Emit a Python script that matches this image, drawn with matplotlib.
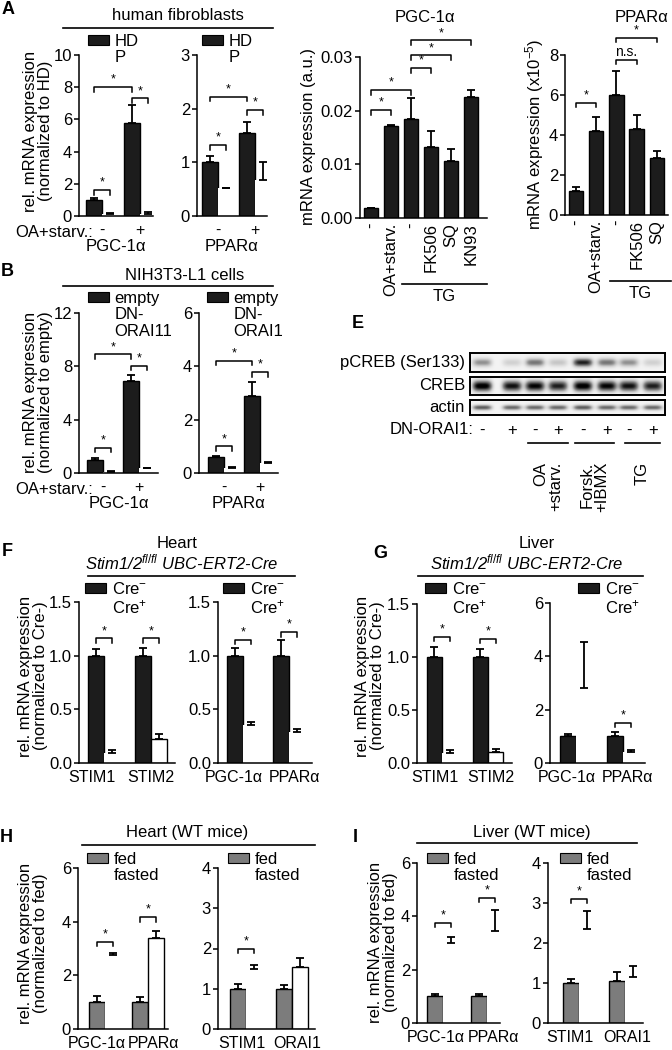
import numpy as np
import matplotlib
matplotlib.use('Agg')
import matplotlib.pyplot as plt
from matplotlib.patches import Rectangle
from matplotlib.lines import Line2D

plt.rcParams['font.family'] = ['Liberation Sans', 'DejaVu Sans']
plt.rcParams['mathtext.fontset'] = 'custom'
plt.rcParams['mathtext.rm'] = 'Liberation Sans'
plt.rcParams['mathtext.it'] = 'Liberation Sans:italic'
plt.rcParams['axes.linewidth'] = 1.1

### A: human fibroblasts (HD / P, -/+ OA+starv.)
a_pgc_hd, a_pgc_hd_err = [1.0, 5.75], [0.12, 1.15]
a_pgc_p, a_pgc_p_err = [0.15, 0.12], [0.04, 0.13]
a_ppar_hd, a_ppar_hd_err = [1.0, 1.55], [0.12, 0.2]
a_ppar_p, a_ppar_p_err = [0.52, 0.68], [0.01, 0.32]

### B: NIH3T3-L1 cells (empty / DN-ORAI1)
b_pgc_e, b_pgc_e_err = [1.0, 6.9], [0.1, 0.45]
b_pgc_dn, b_pgc_dn_err = [0.1, 0.35], [0.02, 0.05]
b_ppar_e, b_ppar_e_err = [0.6, 2.9], [0.05, 0.5]
b_ppar_dn, b_ppar_dn_err = [0.2, 0.38], [0.02, 0.03]

### C / D: treatments
c_labels = ['-', 'OA+starv.', '-', 'FK506', 'SQ', 'KN93']
c_vals = [0.0018, 0.0172, 0.0185, 0.0132, 0.0106, 0.0226]
c_err = [0.0001, 0.0002, 0.0038, 0.0031, 0.0022, 0.0012]
d_labels = ['-', 'OA+starv.', '-', 'FK506', 'SQ']
d_vals = [1.2, 4.2, 6.0, 4.3, 2.85]
d_err = [0.2, 0.7, 1.2, 0.7, 0.35]

### E: western blot band intensities (8 lanes)
e_rows = ['pCREB (Ser133)', 'CREB', 'actin']
e_pcreb = [0.45, 0.2, 0.55, 0.25, 0.85, 0.55, 0.45, 0.2]
e_creb = [1.0, 0.9, 0.95, 0.85, 1.0, 0.95, 0.9, 0.85]
e_actin = [0.65, 0.6, 0.6, 0.6, 0.65, 0.6, 0.6, 0.6]
e_dn = ['-', '+', '-', '+', '-', '+', '-', '+']
e_treat = ['OA\n+starv.', 'Forsk.\n+IBMX', 'TG']

### F: heart, Cre- / Cre+
f1_genes = ['STIM1', 'STIM2']
f1_neg, f1_neg_err = [1.0, 1.0], [0.065, 0.075]
f1_pos, f1_pos_err = [0.09, 0.22], [0.03, 0.05]
f2_genes = ['PGC-1α', 'PPARα']
f2_neg, f2_neg_err = [1.0, 1.0], [0.07, 0.15]
f2_pos, f2_pos_err = [0.35, 0.29], [0.03, 0.03]

### G: liver, Cre- / Cre+
g1_neg, g1_neg_err = [1.0, 1.0], [0.09, 0.08]
g1_pos, g1_pos_err = [0.09, 0.1], [0.03, 0.03]
g2_neg, g2_neg_err = [1.0, 1.0], [0.1, 0.15]
g2_pos, g2_pos_err = [2.8, 0.4], [1.73, 0.08]

### H: heart WT, fed / fasted
h2_genes = ['STIM1', 'ORAI1']
h1_fed, h1_fed_err = [1.0, 1.0], [0.22, 0.18]
h1_fast, h1_fast_err = [2.75, 3.4], [0.07, 0.25]
h2_fed, h2_fed_err = [1.0, 1.0], [0.12, 0.1]
h2_fast, h2_fast_err = [1.5, 1.55], [0.1, 0.22]

### I: liver WT, fed / fasted
i1_fed, i1_fed_err = [1.0, 1.0], [0.1, 0.1]
i1_fast, i1_fast_err = [3.0, 3.45], [0.22, 0.8]
i2_fed, i2_fed_err = [1.0, 1.05], [0.1, 0.22]
i2_fast, i2_fast_err = [2.35, 1.15], [0.45, 0.27]

W, H = 672, 1050
fig = plt.figure(figsize=(W / 100, H / 100), dpi=100)
BLACK = '#1c1c1c'
GRAY = '#7c7c7c'
FS = 12
XFS = 11.5


def fx(px):
    return px / W


def fy(py):
    return 1 - py / H


def ax_px(l, t, r, b):
    return fig.add_axes([fx(l), fy(b), fx(r - l), (b - t) / H])


def hline(x1, x2, y):
    fig.add_artist(Line2D([fx(x1), fx(x2)], [fy(y), fy(y)], color='black', lw=1.2))


def ftext(x, y, s, **kw):
    kw.setdefault('fontsize', FS)
    kw.setdefault('ha', 'center')
    kw.setdefault('va', 'center')
    fig.text(fx(x), fy(y), s, **kw)


def style(ax, ymax, yticks, fmt):
    ax.spines['top'].set_visible(False)
    ax.spines['right'].set_visible(False)
    ax.set_ylim(0, ymax)
    ax.set_yticks(yticks)
    ax.set_yticklabels([fmt.format(t) for t in yticks])
    ax.tick_params(axis='y', direction='out', length=3.5, width=1.1, labelsize=FS, pad=1.5)
    ax.tick_params(axis='x', length=0, labelsize=XFS, pad=5)


def bracket(ax, x1, x2, y, s, dy):
    ax.plot([x1, x1, x2, x2], [y - dy, y, y, y - dy], color='black', lw=1.1, clip_on=False)
    ax.text((x1 + x2) / 2, y + dy * 0.3, s, ha='center', va='bottom',
            fontsize=9 if s == '*' else 10, clip_on=False)


def pair_panel(rect, xlim, bw, ymax, yticks, fmt, xt, xlabels, m1, e1, m2, e2, c1,
               outlined2, brackets, leg_labels, leg_xy, xlabel=None):
    ax = ax_px(*rect)
    x = np.arange(2)
    x1, x2 = x - bw / 2, x + bw / 2
    ax.bar(x1, m1, bw, color=c1, edgecolor='black', lw=1.0, zorder=2)
    ax.bar(x2, m2, bw, color='white',
           edgecolor=['black' if o else 'none' for o in outlined2], lw=1.0, zorder=2)
    for xs, m, e in ((x1, m1, e1), (x2, m2, e2)):
        ax.errorbar(xs, m, yerr=[np.zeros(2), e], fmt='none', ecolor='black',
                    elinewidth=1.3, capsize=3, capthick=1.3, zorder=3)
    ax.set_xlim(*xlim)
    style(ax, ymax, yticks, fmt)
    ax.set_xticks(xt)
    ax.set_xticklabels(xlabels)
    if xlabel:
        ax.set_xlabel(xlabel, fontsize=FS, labelpad=1)
    pos = [x1[0], x2[0], x1[1], x2[1]]
    for i, j, y, s in brackets:
        bracket(ax, pos[i], pos[j], y, s, ymax * 0.028)
    handles = [Rectangle((0, 0), 1, 1, fc=c1, ec='black', lw=0.8),
               Rectangle((0, 0), 1, 1, fc='none', ec='none')]
    ax.legend(handles, leg_labels, loc='upper left', bbox_to_anchor=(fx(leg_xy[0]), fy(leg_xy[1])),
              bbox_transform=fig.transFigure, frameon=False, borderpad=0, borderaxespad=0,
              handlelength=1.25, handleheight=0.6, handletextpad=0.35, labelspacing=0.05,
              fontsize=FS)
    return ax


def multi_panel(rect, xlim, ymax, yticks, fmt, labels, vals, err, brackets, tg_from, tg_to, tg_x):
    ax = ax_px(*rect)
    x = np.arange(len(vals))
    ax.bar(x, vals, 0.72, color=BLACK, edgecolor='black', lw=1.0, zorder=2)
    ax.errorbar(x, vals, yerr=[np.zeros(len(vals)), err], fmt='none', ecolor='black',
                elinewidth=1.3, capsize=3, capthick=1.3, zorder=3)
    ax.set_xlim(*xlim)
    style(ax, ymax, yticks, fmt)
    ax.set_xticks(x)
    ax.set_xticklabels(labels, rotation=90, fontsize=FS)
    ax.tick_params(axis='x', pad=3.5)
    for i, j, y, s in brackets:
        bracket(ax, i, j, y, s, ymax * 0.028)
    tr = ax.get_xaxis_transform()
    ax.plot([tg_from, tg_to], [-0.41, -0.41], color='black', lw=1.2, transform=tr, clip_on=False)
    ax.text(tg_x, -0.49, 'TG', transform=tr, ha='center', va='center', fontsize=FS)
    return ax


# ---------- A ----------
ftext(8, 9, 'A', fontsize=13, fontweight='bold')
ftext(178, 16, 'human fibroblasts')
hline(63, 273, 28)
pair_panel((79, 55, 153, 216), (-0.605, 1.34), 0.42, 10, [0, 2, 4, 6, 8, 10], '{:g}',
           [0, 1], ['-', '+'],
           a_pgc_hd, a_pgc_hd_err, a_pgc_p, a_pgc_p_err, BLACK, [False, False],
           [(0, 1, 1.6, '*'), (0, 2, 8.0, '*'), (2, 3, 7.3, '*')], ['HD', 'P'], (88, 34),
           xlabel='PGC-1α')
pair_panel((197, 55, 267, 216), (-0.57, 1.32), 0.43, 3, [0, 1, 2, 3], '{:g}',
           [0, 1], ['-', '+'],
           a_ppar_hd, a_ppar_hd_err, a_ppar_p, a_ppar_p_err, BLACK, [False, False],
           [(0, 1, 1.32, '*'), (0, 2, 2.22, '*'), (2, 3, 1.97, '*')], ['HD', 'P'], (202, 34),
           xlabel='PPARα')
ftext(15, 232, 'OA+starv.:', ha='left')
ftext(38, 131, 'rel. mRNA expression\n(normalized to HD)', rotation=90, linespacing=1.0)

# ---------- C ----------
ftext(425, 17, 'PGC-1α')
multi_panel((360, 57, 487, 218), (-0.55, 5.8), 0.03, [0, 0.01, 0.02, 0.03], '{:.2f}',
            c_labels, c_vals, c_err,
            [(0, 1, 0.0201, '*'), (0, 2, 0.0238, '*'), (2, 3, 0.0279, '*'),
             (2, 4, 0.0303, '*'), (2, 5, 0.0331, '*')], 1.55, 5.8, 3.65)
ftext(309, 137, 'mRNA expression (a.u.)', rotation=90)

# ---------- D ----------
ftext(642, 17, 'PPARα')
multi_panel((565, 55, 668, 215), (-0.54, 4.55), 8, [0, 2, 4, 6, 8], '{:g}',
            d_labels, d_vals, d_err,
            [(0, 1, 5.6, '*'), (2, 3, 7.75, 'n.s.'), (2, 4, 8.85, '*')], 1.66, 4.7, 3.2)
ftext(535, 134, 'mRNA expression (x10$^{-5}$)', rotation=90)

# ---------- B ----------
ftext(7, 272, 'B', fontsize=13, fontweight='bold')
ftext(185, 276, 'NIH3T3-L1 cells')
hline(63, 273, 286)
pair_panel((79, 313, 158, 473), (-0.67, 1.53), 0.44, 12, [0, 4, 8, 12], '{:g}',
           [0, 1], ['-', '+'],
           b_pgc_e, b_pgc_e_err, b_pgc_dn, b_pgc_dn_err, BLACK, [False, False],
           [(0, 1, 1.9, '*'), (0, 2, 8.9, '*'), (2, 3, 8.05, '*')],
           ['empty', 'DN-\nORAI11'], (88, 291), xlabel='PGC-1α')
pair_panel((199, 313, 278, 473), (-0.69, 1.5), 0.44, 6, [0, 2, 4, 6], '{:g}',
           [0, 1], ['-', '+'],
           b_ppar_e, b_ppar_e_err, b_ppar_dn, b_ppar_dn_err, BLACK, [False, False],
           [(0, 1, 1.0, '*'), (0, 2, 4.2, '*'), (2, 3, 3.78, '*')],
           ['empty', 'DN-\nORAI1'], (207, 291), xlabel='PPARα')
ftext(15, 489, 'OA+starv.:', ha='left')
ftext(38, 392, 'rel. mRNA expression\n(normalized to empty)', rotation=90, linespacing=1.0)

# ---------- E: blot ----------
ftext(358, 324, 'E', fontsize=13, fontweight='bold')
lane_x = [0.062, 0.215, 0.333, 0.451, 0.579, 0.703, 0.815, 0.938]
blot_rows = [(353, 372, e_pcreb, 0.22), (377, 395, e_creb, 0.3), (400, 415, e_actin, 0.18)]
xs = np.linspace(0, 1, 400)
ys = np.linspace(0, 1, 60)
X, Y = np.meshgrid(xs, ys)
for (t, b, levels, thick), name in zip(blot_rows, e_rows):
    bax = ax_px(470, t, 665, b)
    img = np.full(X.shape, 0.1)
    for c, v in zip(lane_x, levels):
        img += v * np.exp(-((X - c) / 0.05) ** 4 - ((Y - 0.5) / thick) ** 2)
    bax.imshow(img, cmap='Greys', vmin=0, vmax=1.05, aspect='auto', extent=(0, 1, 0, 1))
    bax.set_xticks([])
    bax.set_yticks([])
    for sp in bax.spines.values():
        sp.set_linewidth(1.4)
    ftext(465, (t + b) / 2, name, ha='right')
ftext(473, 430, 'DN-ORAI1:', ha='right')
for c, s in zip(lane_x, e_dn):
    ftext(470 + 195 * c, 430, s)
for (x1, x2), s in zip([(528, 568), (575, 614), (625, 660)], e_treat):
    hline(x1, x2, 443)
    ftext((x1 + x2) / 2, 462, s, rotation=90, va='top', multialignment='right', linespacing=1.0)

# ---------- F ----------
ftext(7, 551, 'F', fontsize=13, fontweight='bold')
ftext(177, 543, 'Heart')
ftext(182, 562, r'Stim1/2$^{\mathit{fl/fl}}$ UBC-ERT2-Cre', style='italic')
hline(88, 295, 576)
pair_panel((79, 602, 175, 763), (-0.53, 1.51), 0.34, 1.5, [0, 0.5, 1.0, 1.5], '{:.1f}',
           [-0.26, 1.0], f1_genes,
           f1_neg, f1_neg_err, f1_pos, f1_pos_err, BLACK, [False, True],
           [(0, 1, 1.16, '*'), (2, 3, 1.16, '*')], ['Cre$^{-}$', 'Cre$^{+}$'], (85, 581))
pair_panel((218, 602, 312, 763), (-0.54, 1.5), 0.35, 1.5, [0, 0.5, 1.0, 1.5], '{:.1f}',
           [-0.2, 1.11], f2_genes,
           f2_neg, f2_neg_err, f2_pos, f2_pos_err, BLACK, [False, False],
           [(0, 1, 1.15, '*'), (2, 3, 1.22, '*')], ['Cre$^{-}$', 'Cre$^{+}$'], (223, 581))
ftext(33, 676, 'rel. mRNA expression\n(normalized to Cre-)', rotation=90, linespacing=1.0)

# ---------- G ----------
ftext(380, 553, 'G', fontsize=13, fontweight='bold')
ftext(537, 543, 'Liver')
ftext(527, 562, r'Stim1/2$^{\mathit{fl/fl}}$ UBC-ERT2-Cre', style='italic')
hline(418, 643, 576)
pair_panel((417, 604, 512, 763), (-0.54, 1.52), 0.33, 1.5, [0, 0.5, 1.0, 1.5], '{:.1f}',
           [-0.15, 1.07], f1_genes,
           g1_neg, g1_neg_err, g1_pos, g1_pos_err, BLACK, [False, True],
           [(0, 1, 1.19, '*'), (2, 3, 1.17, '*')], ['Cre$^{-}$', 'Cre$^{+}$'], (425, 581))
pair_panel((550, 603, 645, 763), (-0.55, 1.47), 0.33, 6, [0, 2, 4, 6], '{:g}',
           [-0.19, 1.09], f2_genes,
           g2_neg, g2_neg_err, g2_pos, g2_pos_err, BLACK, [False, False],
           [(2, 3, 1.5, '*')], ['Cre$^{-}$', 'Cre$^{+}$'], (578, 581))
ftext(370, 676, 'rel. mRNA expression\n(normalized to Cre-)', rotation=90, linespacing=1.0)

# ---------- H ----------
ftext(6, 838, 'H', fontsize=13, fontweight='bold')
ftext(187, 833, 'Heart (WT mice)')
hline(82, 315, 845)
pair_panel((78, 868, 168, 1029), (-0.63, 1.47), 0.38, 6, [0, 2, 4, 6], '{:g}',
           [-0.19, 1.12], f2_genes,
           h1_fed, h1_fed_err, h1_fast, h1_fast_err, GRAY, [False, True],
           [(0, 1, 3.25, '*'), (2, 3, 4.17, '*')], ['fed', 'fasted'], (87, 852))
pair_panel((218, 868, 315, 1029), (-0.61, 1.5), 0.35, 4, [0, 1, 2, 3, 4], '{:g}',
           [-0.08, 1.11], h2_genes,
           h2_fed, h2_fed_err, h2_fast, h2_fast_err, GRAY, [False, True],
           [(0, 1, 1.99, '*')], ['fed', 'fasted'], (228, 852))
ftext(33, 943, 'rel. mRNA expression\n(normalized to fed)', rotation=90, linespacing=1.0)

# ---------- I ----------
ftext(355, 838, 'I', fontsize=13, fontweight='bold')
ftext(532, 833, 'Liver (WT mice)')
hline(417, 637, 843)
pair_panel((417, 863, 500, 1023), (-0.59, 1.3), 0.37, 6, [0, 2, 4, 6], '{:g}',
           [-0.16, 1.14], f2_genes,
           i1_fed, i1_fed_err, i1_fast, i1_fast_err, GRAY, [False, False],
           [(0, 1, 3.75, '*'), (2, 3, 4.7, '*')], ['fed', 'fasted'], (427, 852))
pair_panel((548, 863, 643, 1023), (-0.67, 1.39), 0.35, 4, [0, 1, 2, 3, 4], '{:g}',
           [-0.2, 1.04], h2_genes,
           i2_fed, i2_fed_err, i2_fast, i2_fast_err, GRAY, [False, False],
           [(0, 1, 3.1, '*')], ['fed', 'fasted'], (560, 852))
ftext(383, 942, 'rel. mRNA expression\n(normalized to fed)', rotation=90, linespacing=1.0)

fig.savefig('out.png', dpi=100)
